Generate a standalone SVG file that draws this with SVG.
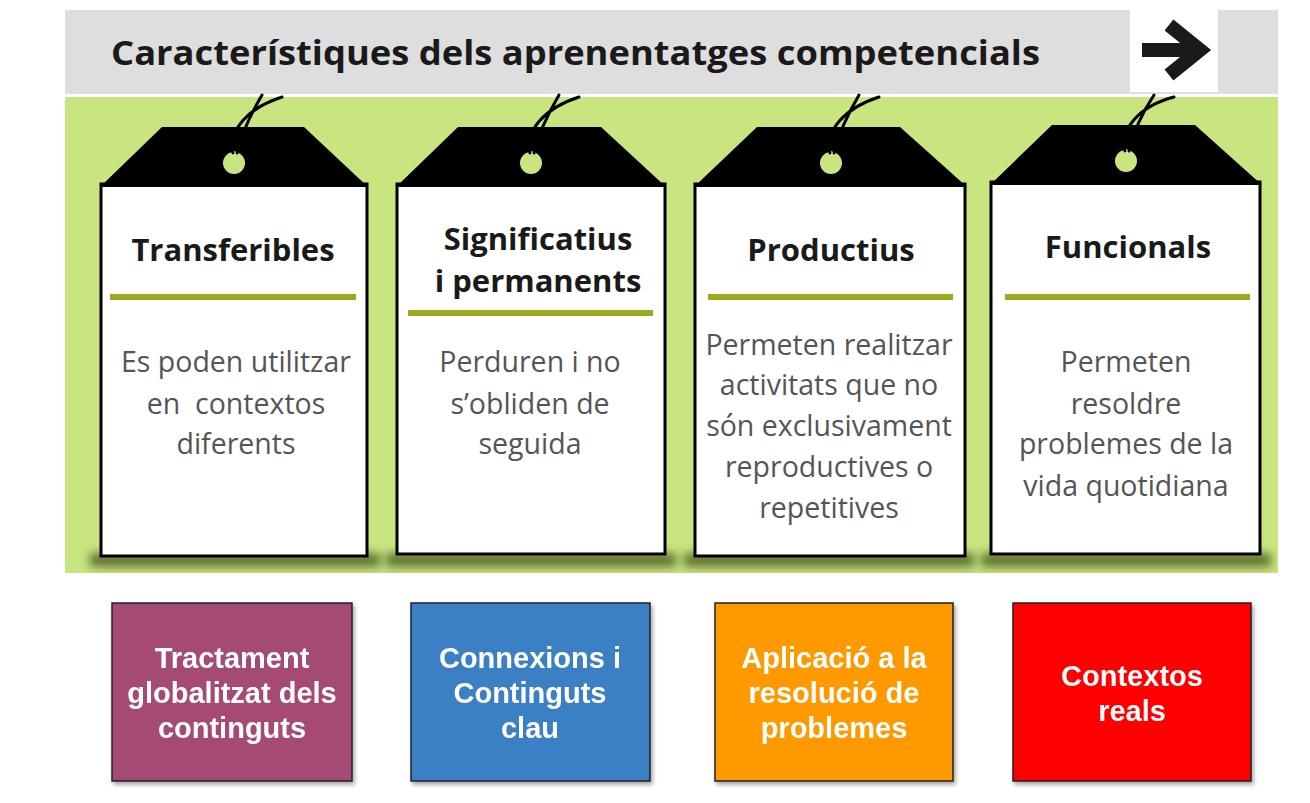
<svg xmlns="http://www.w3.org/2000/svg" width="1310" height="803" viewBox="0 0 1310 803">
<defs>
<style>
.title{font-family:"Open Sans","DejaVu Sans",sans-serif;font-weight:700;font-size:34px;fill:#1a1a1a}
.ttl{font-family:"Open Sans","DejaVu Sans",sans-serif;font-weight:700;font-size:31px;fill:#1a1a1a;text-anchor:middle}
.body{font-family:"Open Sans","DejaVu Sans",sans-serif;font-size:28.5px;fill:#555;text-anchor:middle}
.btxt{font-family:"Liberation Sans",Arial,sans-serif;font-weight:700;font-size:29px;fill:#fff;text-anchor:middle}
.card{stroke:#000;stroke-width:3}
.tagtop{fill:#000}
.hole{fill:#c8e57f}
.str{fill:none;stroke:#000;stroke-width:3;stroke-linecap:round}
.bar{stroke:#9aab1c;stroke-width:6}
.box{stroke:#222;stroke-width:1.5}
</style>
<filter id="blur" x="-20%" y="-100%" width="140%" height="300%"><feGaussianBlur stdDeviation="5"/></filter>
<filter id="sh" x="-10%" y="-10%" width="130%" height="130%"><feDropShadow dx="2" dy="3" stdDeviation="2" flood-color="#000" flood-opacity="0.35"/></filter>
<clipPath id="gclip"><rect x="65" y="97" width="1213" height="476"/></clipPath>
</defs>
<rect width="1310" height="803" fill="#fff"/>
<g id="header">
<rect x="65" y="10" width="1213" height="84" fill="#dedede"/>
<rect x="1130" y="10" width="88" height="82" fill="#fff"/>
<text x="111" y="65" class="title" textLength="929" lengthAdjust="spacingAndGlyphs">Característiques dels aprenentatges competencials</text>
<g fill="none" stroke="#1a1a1a" stroke-width="14">
<line x1="1142" y1="50" x2="1194" y2="50"/>
<polyline points="1169,25 1200,50 1169,75" stroke-linejoin="miter"/>
</g>
</g>
<g id="panel">
<rect x="65" y="97" width="1213" height="476" fill="#c8e57f"/>
<g clip-path="url(#gclip)" filter="url(#blur)" fill="#4f5f25" opacity="0.85">
<rect x="90" y="553" width="290" height="14"/>
<rect x="386" y="553" width="290" height="14"/>
<rect x="684" y="553" width="290" height="14"/>
<rect x="981" y="553" width="290" height="14"/>
</g>
</g>
<g id="connectors"></g>
<g id="tag1">
<rect x="101" y="184" width="266" height="372" fill="#fff" class="card"/>
<polygon points="100,187 162,127 304,127 368,187" class="tagtop"/>
<circle cx="234" cy="163" r="11" class="hole"/>
<circle cx="234" cy="153" r="2" fill="#fff"/>
<path d="M233,153 C228,130 248,108 282,97 M237,153 C242,132 252,112 262,95" class="str"/>
<text x="233" y="261" class="ttl">Transferibles</text>
<line x1="110" y1="297" x2="356" y2="297" class="bar"/>
<text class="body"><tspan x="236" y="372">Es poden utilitzar</tspan><tspan x="236" y="414">en&#160; contextos</tspan><tspan x="236" y="454">diferents</tspan></text>
</g>
<g id="tag2">
<rect x="397" y="184" width="268" height="370" fill="#fff" class="card"/>
<polygon points="396,187 458,127 601,127 666,187" class="tagtop"/>
<circle cx="531" cy="163" r="11" class="hole"/>
<circle cx="531" cy="153" r="2" fill="#fff"/>
<path d="M530,153 C525,130 545,108 579,97 M534,153 C539,132 549,112 559,95" class="str"/>
<text x="538" y="250" class="ttl">Significatius</text>
<text x="538" y="292" class="ttl">i permanents</text>
<line x1="408" y1="313" x2="653" y2="313" class="bar"/>
<text class="body"><tspan x="530" y="372">Perduren i no</tspan><tspan x="530" y="414">s’obliden de</tspan><tspan x="530" y="454">seguida</tspan></text>
</g>
<g id="tag3">
<rect x="695" y="184" width="270" height="372" fill="#fff" class="card"/>
<polygon points="694,187 757,127 900,127 967,187" class="tagtop"/>
<circle cx="831" cy="163" r="11" class="hole"/>
<circle cx="831" cy="153" r="2" fill="#fff"/>
<path d="M830,153 C825,130 845,108 879,97 M834,153 C839,132 849,112 859,95" class="str"/>
<text x="831" y="261" class="ttl">Productius</text>
<line x1="708" y1="297" x2="953" y2="297" class="bar"/>
<text class="body"><tspan x="829" y="355">Permeten realitzar</tspan><tspan x="829" y="395">activitats que no</tspan><tspan x="829" y="436">són exclusivament</tspan><tspan x="829" y="477">reproductives o</tspan><tspan x="829" y="518">repetitives</tspan></text>
</g>
<g id="tag4">
<rect x="991" y="182" width="269" height="372" fill="#fff" class="card"/>
<polygon points="990,185 1052,125 1195,125 1262,185" class="tagtop"/>
<circle cx="1126" cy="161" r="11" class="hole"/>
<circle cx="1126" cy="151" r="2" fill="#fff"/>
<path d="M1125,151 C1120,128 1140,106 1174,97 M1129,151 C1134,130 1144,110 1154,95" class="str"/>
<text x="1128" y="258" class="ttl">Funcionals</text>
<line x1="1005" y1="297" x2="1250" y2="297" class="bar"/>
<text class="body"><tspan x="1126" y="372">Permeten</tspan><tspan x="1126" y="414">resoldre</tspan><tspan x="1126" y="454">problemes de la</tspan><tspan x="1126" y="496">vida quotidiana</tspan></text>
</g>
<g id="box1" filter="url(#sh)">
<rect x="112" y="603" width="240" height="178" fill="#a54a74" class="box"/>
<text class="btxt"><tspan x="232" y="668">Tractament</tspan><tspan x="232" y="703">globalitzat dels</tspan><tspan x="232" y="738">continguts</tspan></text>
</g>
<g id="box2" filter="url(#sh)">
<rect x="411" y="603" width="239" height="178" fill="#3b7fc4" class="box"/>
<text class="btxt"><tspan x="530" y="668">Connexions i</tspan><tspan x="530" y="703">Continguts</tspan><tspan x="530" y="738">clau</tspan></text>
</g>
<g id="box3" filter="url(#sh)">
<rect x="715" y="603" width="238" height="178" fill="#ff9900" class="box"/>
<text class="btxt"><tspan x="834" y="668">Aplicació a la</tspan><tspan x="834" y="703">resolució de</tspan><tspan x="834" y="738">problemes</tspan></text>
</g>
<g id="box4" filter="url(#sh)">
<rect x="1013" y="603" width="238" height="178" fill="#ff0000" class="box"/>
<text class="btxt"><tspan x="1132" y="686">Contextos</tspan><tspan x="1132" y="721">reals</tspan></text>
</g>
</svg>
